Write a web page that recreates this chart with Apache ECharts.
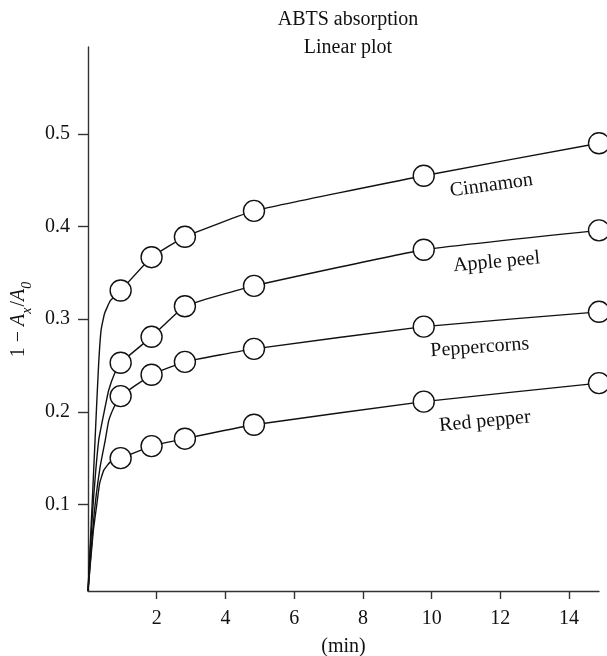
<!DOCTYPE html>
<html>
<head>
<meta charset="utf-8">
<script src="https://cdn.jsdelivr.net/npm/echarts@6/dist/echarts.min.js"></script>
<style>
html,body{margin:0;padding:0;background:#fff;}
#chart{width:607px;height:656px;}
</style>
</head>
<body>
<div id="chart"></div>
<script>
// ---- data ----
var seriesNames = ['Cinnamon', 'Apple peel', 'Peppercorns', 'Red pepper'];
var times = [0.95, 1.85, 2.82, 4.83, 9.77, 14.87];
var cinnamon = [0.331, 0.367, 0.389, 0.417, 0.455, 0.490];
var applePeel = [0.253, 0.281, 0.314, 0.336, 0.375, 0.396];
var peppercorns = [0.217, 0.240, 0.254, 0.268, 0.292, 0.308];
var redPepper = [0.150, 0.163, 0.171, 0.186, 0.211, 0.231];
var cinnamonLead = [[0, 0.0065], [0.12, 0.10], [0.24, 0.198], [0.31, 0.252], [0.38, 0.288], [0.48, 0.306], [0.65, 0.320]];
var applePeelLead = [[0, 0.0065], [0.13, 0.09], [0.31, 0.169], [0.46, 0.198], [0.60, 0.223], [0.78, 0.242]];
var peppercornsLead = [[0, 0.0065], [0.18, 0.09], [0.35, 0.14], [0.50, 0.169], [0.60, 0.19], [0.77, 0.206]];
var redPepperLead = [[0, 0.0065], [0.15, 0.07], [0.26, 0.101], [0.34, 0.123], [0.46, 0.137], [0.65, 0.146]];
var xTicks = [2, 4, 6, 8, 10, 12, 14];
var yTicks = [0.1, 0.2, 0.3, 0.4, 0.5];

// ---- layout (label anchors in data coords, rotation) ----
var labelAnchors = [
  {x: 11.74, y: 0.4445, rot: 7.8},
  {x: 11.89, y: 0.3617, rot: 5.3},
  {x: 11.40, y: 0.2695, rot: 4.2},
  {x: 11.55, y: 0.1896, rot: 5.5}
];

var FONT = '"Liberation Serif", "DejaVu Serif", serif';
var INK = '#111';
var values = [cinnamon, applePeel, peppercorns, redPepper];
var leads = [cinnamonLead, applePeelLead, peppercornsLead, redPepperLead];

var series = [];
values.forEach(function (vals, i) {
  var pts = times.map(function (t, k) { return [t, vals[k]]; });
  series.push({
    type: 'line',
    data: leads[i].concat(pts),
    smooth: 0.12,
    showSymbol: false,
    symbol: 'none',
    lineStyle: {color: INK, width: 1.4},
    z: 2,
    silent: true,
    animation: false
  });
});
values.forEach(function (vals, i) {
  series.push({
    type: 'scatter',
    data: times.map(function (t, k) { return [t, vals[k]]; }),
    symbol: 'circle',
    symbolSize: 21,
    clip: false,
    itemStyle: {color: '#fff', borderColor: INK, borderWidth: 1.4, opacity: 1},
    z: 3,
    silent: true,
    animation: false
  });
});
series.push({
  type: 'scatter',
  data: labelAnchors.map(function (a, i) {
    return {
      value: [a.x, a.y],
      label: {show: true, formatter: seriesNames[i], rotate: a.rot, position: 'inside',
              fontFamily: FONT, fontSize: 20, color: INK, textBorderWidth: 0, opacity: 1}
    };
  }),
  symbolSize: 1,
  itemStyle: {color: '#fff', opacity: 0},
  clip: false,
  silent: true,
  animation: false,
  z: 4
});

var chart = echarts.init(document.getElementById('chart'), null, {renderer: 'canvas'});
chart.setOption({
  animation: false,
  backgroundColor: '#fff',
  title: {
    text: 'ABTS absorption\nLinear plot',
    left: 343,
    textAlign: 'center',
    top: 1,
    textStyle: {fontFamily: FONT, fontSize: 20, fontWeight: 'normal', color: INK, lineHeight: 28}
  },
  grid: {left: 88, right: 8, top: 47, bottom: 65, containLabel: false, outerBoundsMode: 'none'},
  xAxis: {
    type: 'value',
    min: 0,
    max: 14.87,
    name: '(min)',
    nameLocation: 'middle',
    nameGap: 46,
    nameTextStyle: {fontFamily: FONT, fontSize: 20, color: INK},
    axisLine: {show: true, lineStyle: {color: '#333', width: 1.4}},
    axisTick: {show: true, length: 8, inside: false, customValues: xTicks, lineStyle: {color: '#333', width: 1.4}},
    axisLabel: {show: true, customValues: xTicks, margin: 18, fontFamily: FONT, fontSize: 20, color: INK},
    splitLine: {show: false}
  },
  yAxis: {
    type: 'value',
    min: 0.0065,
    max: 0.594,
    name: '{n|1 − }{i|A}{s|x}{n|/}{i|A}{s|0}',
    nameLocation: 'middle',
    nameRotate: 90,
    nameGap: 52,
    nameTextStyle: {
      fontFamily: FONT, fontSize: 20, color: INK,
      rich: {
        n: {fontFamily: FONT, fontSize: 20, color: INK, verticalAlign: 'bottom', lineHeight: 24},
        i: {fontFamily: FONT, fontSize: 20, fontStyle: 'italic', color: INK, verticalAlign: 'bottom', lineHeight: 24},
        s: {fontFamily: FONT, fontSize: 14, fontStyle: 'italic', color: INK, verticalAlign: 'bottom', lineHeight: 24, padding: [0, 1, -5, 0]}
      }
    },
    axisLine: {show: true, lineStyle: {color: '#333', width: 1.4}},
    axisTick: {show: true, length: 10, inside: false, customValues: yTicks, lineStyle: {color: '#333', width: 1.4}},
    axisLabel: {show: true, customValues: yTicks, margin: 18, fontFamily: FONT, fontSize: 20, color: INK,
                formatter: function (v) { return v.toFixed(1); }},
    splitLine: {show: false}
  },
  series: series
});
</script>
</body>
</html>
